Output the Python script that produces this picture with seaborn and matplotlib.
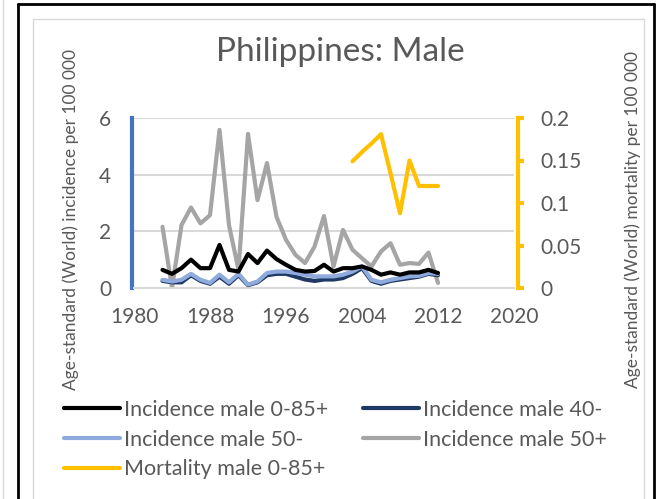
import matplotlib
matplotlib.use("Agg")
import matplotlib.pyplot as plt
from matplotlib.lines import Line2D
from matplotlib.patches import Rectangle
import seaborn as sns
import pandas as pd

# values
years = list(range(1983, 2013))
inc_all = [0.64, 0.50, 0.70, 1.00, 0.70, 0.70, 1.52, 0.64, 0.58, 1.20,
           0.88, 1.32, 1.02, 0.82, 0.64, 0.58, 0.60, 0.82, 0.58, 0.70,
           0.70, 0.76, 0.64, 0.47, 0.55, 0.47, 0.55, 0.55, 0.64, 0.53]
inc_40 = [0.25, 0.20, 0.20, 0.45, 0.25, 0.15, 0.40, 0.15, 0.45, 0.10,
          0.20, 0.45, 0.50, 0.50, 0.40, 0.30, 0.25, 0.30, 0.30, 0.35,
          0.50, 0.70, 0.25, 0.15, 0.25, 0.30, 0.35, 0.40, 0.50, 0.45]
inc_50m = [0.29, 0.23, 0.29, 0.50, 0.29, 0.18, 0.47, 0.20, 0.50, 0.12,
           0.23, 0.53, 0.58, 0.58, 0.53, 0.47, 0.41, 0.41, 0.41, 0.47,
           0.58, 0.76, 0.29, 0.20, 0.29, 0.35, 0.41, 0.43, 0.53, 0.50]
inc_50p = [2.16, 0.00, 2.22, 2.84, 2.28, 2.57, 5.58, 2.22, 0.64, 5.44,
           3.10, 4.41, 2.51, 1.70, 1.17, 0.88, 1.46, 2.54, 0.76, 2.05,
           1.35, 1.05, 0.76, 1.29, 1.58, 0.82, 0.88, 0.85, 1.25, 0.18]
mort_years = [2003, 2004, 2005, 2006, 2007, 2008, 2009, 2010, 2011, 2012]
mort_all = [0.149, 0.160, 0.170, 0.181, 0.135, 0.088, 0.150, 0.120, 0.120, 0.120]

sns.set_style("white")
plt.rcParams['font.family'] = ['Lato', 'DejaVu Sans']

txt = '#595959'
grid_c = '#d9d9d9'

fig = plt.figure(figsize=(6.6, 4.99), dpi=100)

# frames around the chart
fig.add_artist(Line2D([18/660, 18/660], [0, 1 - 4/499], color='black', lw=2))
fig.add_artist(Line2D([654/660, 654/660], [0, 1 - 4/499], color='black', lw=2))
fig.add_artist(Line2D([18/660, 654/660], [1 - 4/499, 1 - 4/499], color='black', lw=2))
fig.add_artist(Line2D([3/660, 3/660], [0, 1], color=grid_c, lw=1))
fig.add_artist(Rectangle((33/660, -0.01), (644 - 33)/660, 1 - 19/499 + 0.01,
                         fill=False, edgecolor=grid_c, lw=1))

ax = fig.add_axes([134/660, 1 - 288/499, 380/660, 170/499])
ax2 = ax.twinx()

df = pd.DataFrame({'year': years, 'all': inc_all, 'u40': inc_40,
                   'u50': inc_50m, 'o50': inc_50p})
dm = pd.DataFrame({'year': mort_years, 'mort': mort_all})

lw = 3
sns.lineplot(data=df, x='year', y='all', ax=ax, color='black', lw=lw, zorder=4, label='Incidence male 0-85+')
sns.lineplot(data=df, x='year', y='u40', ax=ax, color='#203864', lw=lw, zorder=3, label='Incidence male 40-')
sns.lineplot(data=df, x='year', y='u50', ax=ax, color='#8faadc', lw=lw, zorder=3.5, label='Incidence male 50-')
sns.lineplot(data=df, x='year', y='o50', ax=ax, color='#a5a5a5', lw=lw, zorder=2, label='Incidence male 50+')
sns.lineplot(data=dm, x='year', y='mort', ax=ax2, color='#ffc000', lw=lw, label='Mortality male 0-85+')

ax.set_xlim(1980, 2020)
ax.set_ylim(0, 6)
ax2.set_ylim(0, 0.2)
ax.set_xticks([1980, 1988, 1996, 2004, 2012, 2020])
ax.set_yticks([0, 2, 4, 6])
ax2.set_yticks([0, 0.05, 0.1, 0.15, 0.2])
ax2.set_yticklabels(['0', '0.05', '0.1', '0.15', '0.2'])

ax.grid(axis='y', color=grid_c, lw=1.5)
ax.set_axisbelow(True)
for s in ['top', 'right']:
    ax.spines[s].set_visible(False)
ax.spines['bottom'].set_color(grid_c)
ax.spines['bottom'].set_linewidth(1.5)
ax.spines['left'].set_color('#4472c4')
ax.spines['left'].set_linewidth(3)
ax.spines['left'].set_position(('outward', 1.5))
for s in ['top', 'left', 'bottom']:
    ax2.spines[s].set_visible(False)
ax2.spines['right'].set_color('#ffc000')
ax2.spines['right'].set_linewidth(3)
ax2.spines['right'].set_position(('outward', 3))

ax.tick_params(axis='y', length=0, pad=15, labelsize=15, labelcolor=txt)
ax.tick_params(axis='x', length=0, pad=14, labelsize=15, labelcolor=txt)
ax2.tick_params(axis='y', length=4, width=3, color='#ffc000', pad=12, labelsize=15, labelcolor=txt)

ax.set_xlabel('')
ax.set_ylabel('')
ax2.set_ylabel('')
fig.text(71/660, 1 - 219/499, 'Age-standard (World) incidence per 100 000', rotation=90,
         ha='center', va='center', fontsize=12.5, color=txt)
fig.text(633/660, 1 - 219/499, 'Age-standard (World) mortality per 100 000', rotation=90,
         ha='center', va='center', fontsize=12.5, color=txt)
fig.text(340/660, 1 - 52/499, 'Philippines: Male', ha='center', va='center', fontsize=24, color=txt)

h1, l1 = ax.get_legend_handles_labels()
h2, l2 = ax2.get_legend_handles_labels()
ax.get_legend().remove()
ax2.get_legend().remove()
hd = dict(zip(l1 + l2, h1 + h2))
order = ['Incidence male 0-85+', 'Incidence male 50-', 'Mortality male 0-85+',
         'Incidence male 40-', 'Incidence male 50+']
fig.legend([hd[k] for k in order], order, ncol=2, loc='upper left',
           bbox_to_anchor=(64/660, 1 - 400/499), frameon=False, fontsize=15.5,
           labelcolor=txt, handlelength=2.6, handletextpad=0.19, columnspacing=1.6,
           labelspacing=0.45, borderpad=0, borderaxespad=0)

fig.savefig('out.png', dpi=100)
